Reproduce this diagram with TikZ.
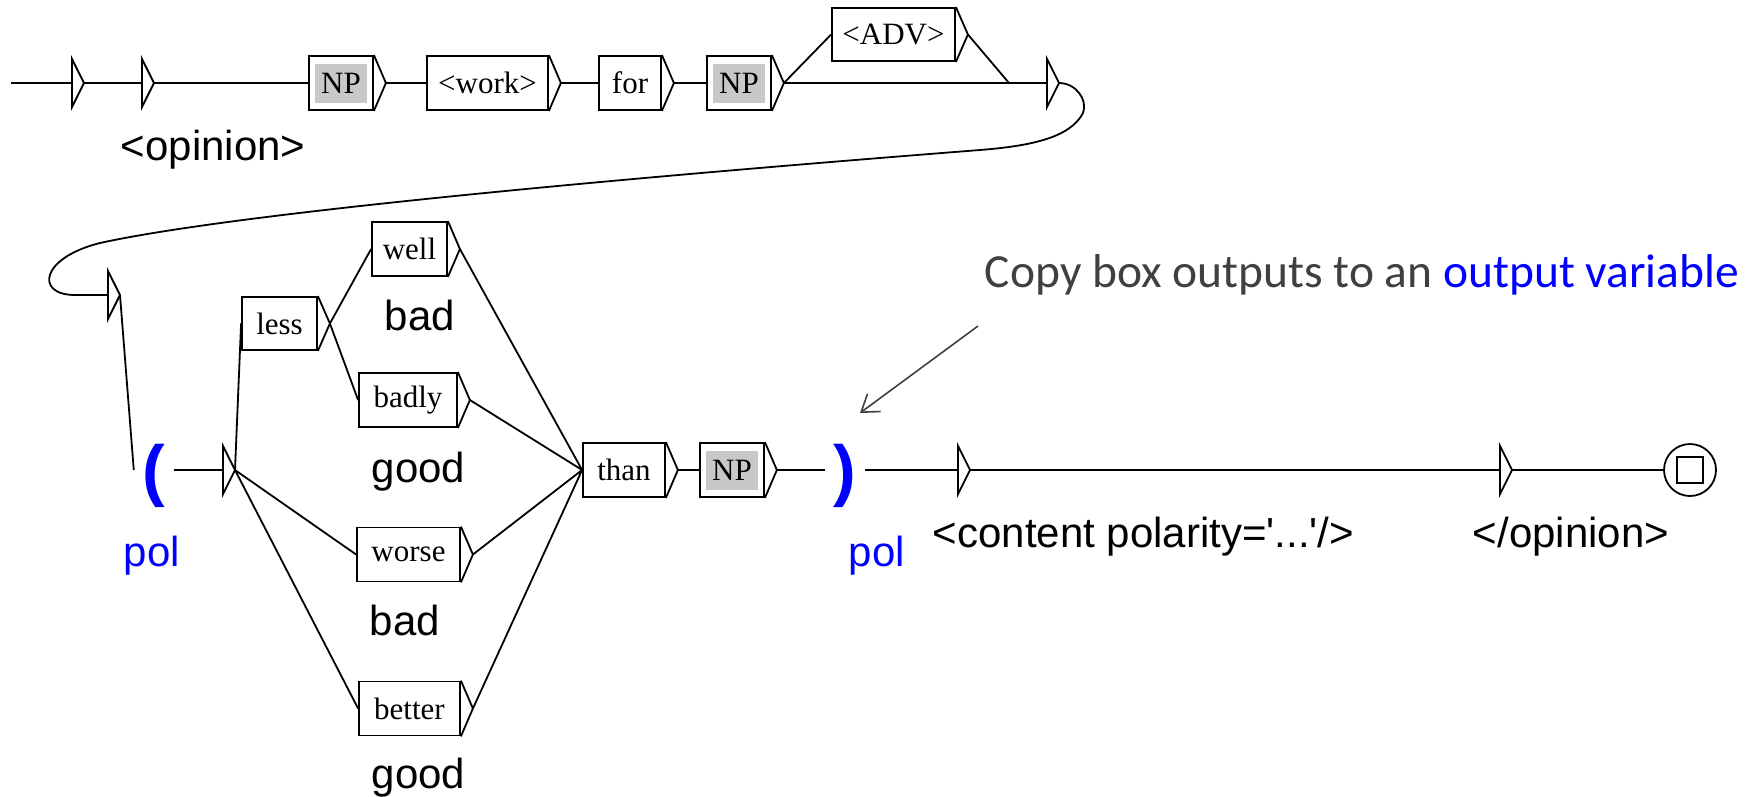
\documentclass[tikz,border=0pt]{standalone}
\usepackage{fontspec}
\setmainfont{Liberation Serif}
\newfontfamily\labelfont{Liberation Sans}
\newfontfamily\notefont{Carlito}
\usetikzlibrary{arrows.meta}
\definecolor{boxgray}{RGB}{200,200,200}
\definecolor{notegray}{RGB}{64,64,64}
\definecolor{varblue}{RGB}{0,0,255}
\tikzset{
  box/.style={draw, minimum height=54pt, inner sep=0pt, font=\fontsize{31}{31}\selectfont},
  npbox/.style={box, minimum width=64pt, path picture={\fill[boxgray] ([shift={(6pt,-8pt)}]path picture bounding box.north west) rectangle ([shift={(-6pt,7pt)}]path picture bounding box.south east);}},
  outlabel/.style={anchor=base west, inner sep=0pt, font=\labelfont\fontsize{42}{42}\selectfont},
  varparen/.style={text=varblue, inner xsep=8pt, inner ysep=0pt, font=\labelfont\bfseries\fontsize{68}{68}\selectfont},
  final/.style={circle, draw, minimum size=52pt, path picture={\draw ([shift={(-13pt,-13pt)}]path picture bounding box.center) rectangle ([shift={(13pt,13pt)}]path picture bounding box.center);}}
}
% triangle on the right side of a box
\newcommand{\outtip}[1]{\draw (#1.north east) -- ([xshift=12pt]#1.east) coordinate (#1-t) -- (#1.south east);}
% box without text
\newcommand{\emptystate}[3]{\coordinate (#1) at (#2,#3); \draw ([yshift=24pt]#1) -- ([xshift=12pt]#1) coordinate (#1-t) -- ([yshift=-24pt]#1) -- cycle;}
\begin{document}
\begin{tikzpicture}[x=1pt, y=-1pt, line width=1.8pt]
\useasboundingbox (0,0) rectangle (1764,796);
% first line
\coordinate (start) at (11,83);
\emptystate{e1}{72}{83}
\emptystate{e2}{142}{83}
\node[npbox] (np1) at (341,83) {NP};
\node[box, minimum width=121pt] (work) at (487.5,83) {<work>};
\node[box, minimum width=62pt] (for) at (630,83) {for};
\node[npbox] (np2) at (739,83) {NP};
\node[box, minimum width=123pt, minimum height=53pt] (adv) at (893.5,34.5) {<ADV>};
\coordinate (join) at (1009,83);
\emptystate{e3}{1047}{83}
\outtip{np1} \outtip{work} \outtip{for} \outtip{np2} \outtip{adv}
\draw (start) -- (e1) (e1-t) -- (e2) (e2-t) -- (np1) (np1-t) -- (work) (work-t) -- (for) (for-t) -- (np2);
\draw (np2-t) -- (adv.west) (np2-t) -- (e3) (adv-t) -- (join);
\node[outlabel] (lopinion) at (120,160) {<opinion>};
% loop back to the second line
\emptystate{e4}{108}{295}
\draw (e3-t) .. controls (1076,83) and (1088,100) .. (1083,113) .. controls (1070,138) and (1030,146) .. (980,150) .. controls (700,172) and (250,210) .. (100,243) .. controls (40,258) and (35,295) .. (75,295) -- (e4);
% second line
\node[varparen] (vopen) at (154,476) {(};
\emptystate{e5}{223}{470}
\node[box, minimum width=75pt, minimum height=53pt] (less) at (279.5,323.5) {less};
\node[box, minimum width=75pt] (well) at (409.5,249) {well};
\node[box, minimum width=98pt] (badly) at (408,400) {badly};
\node[box, minimum width=103pt] (worse) at (408.5,554.5) {worse};
\node[box, minimum width=101pt] (better) at (409.5,708.5) {better};
\node[box, minimum width=82pt] (than) at (624,470) {than};
\node[npbox] (np3) at (732,470) {NP};
\node[varparen] (vclose) at (845,476) {)};
\emptystate{e6}{958}{470}
\emptystate{e7}{1500}{470}
\node[final] (fin) at (1690,470) {};
\outtip{less} \outtip{well} \outtip{badly} \outtip{worse} \outtip{better} \outtip{than} \outtip{np3}
\draw (e4-t) -- (vopen.west |- e5) (vopen.east |- e5) -- (e5);
\draw (e5-t) -- (less.west) (e5-t) -- (worse.west) (e5-t) -- (better.west);
\draw (less-t) -- (well.west) (less-t) -- (badly.west);
\draw (well-t) -- (than.west) (badly-t) -- (than.west) (worse-t) -- (than.west) (better-t) -- (than.west);
\draw (than-t) -- (np3) (np3-t) -- (vclose.west |- np3-t) (vclose.east |- e6) -- (e6) (e6-t) -- (e7) (e7-t) -- (fin);
% outputs
\node[outlabel] (lbad1) at (384,330) {bad};
\node[outlabel] (lgood1) at (371,482) {good};
\node[outlabel] (lbad2) at (369,635) {bad};
\node[outlabel] (lgood2) at (371,788) {good};
\node[outlabel, text=varblue] (lpol1) at (123,566) {pol};
\node[outlabel, text=varblue] (lpol2) at (848,566) {pol};
\node[outlabel] (lcontent) at (932,547) {<content polarity=\textquotesingle...\textquotesingle/>};
\node[outlabel] (lclose) at (1472,547) {</opinion>};
% note
\node[anchor=base west, inner sep=0pt, text=notegray, font=\notefont\fontsize{47.5}{47.5}\selectfont] (note) at (984,287) {Copy box outputs to an \textcolor{varblue}{output variable}};
\coordinate (notetail) at (978,326);
\coordinate (notehead) at (860,413);
\draw[notegray, line width=1.6pt, -{Straight Barb[length=16pt, width=22pt]}] (notetail) -- (notehead);
\end{tikzpicture}
\end{document}
